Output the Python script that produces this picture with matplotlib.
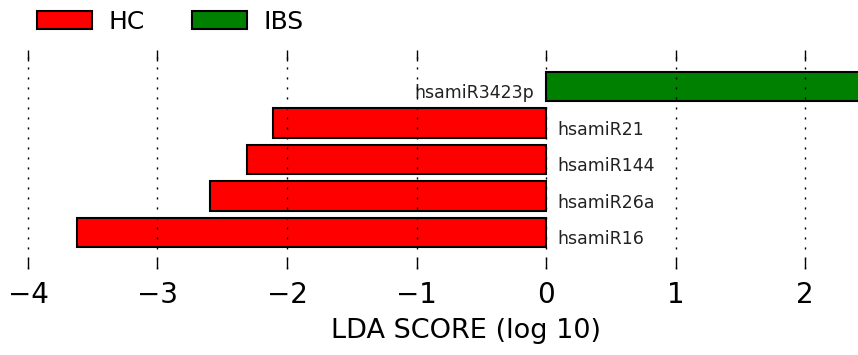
import matplotlib
matplotlib.use("Agg")
import matplotlib.pyplot as plt
from matplotlib.patches import Patch

# Data (top to bottom in the chart)
features = ["hsamiR3423p", "hsamiR21", "hsamiR144", "hsamiR26a", "hsamiR16"]
lda_scores = [2.7, -2.11, -2.31, -2.595, -3.62]
groups = ["IBS", "HC", "HC", "HC", "HC"]
group_names = ["HC", "IBS"]
group_colors = {"HC": "#FF0000", "IBS": "#008000"}
xticks = [-4, -3, -2, -1, 0, 1, 2]

plt.rcParams["font.family"] = ["DejaVu Sans"]

fig = plt.figure(figsize=(8.58, 3.55), dpi=100)
ax = fig.add_axes([0.0, 0.2423, 1.0, 0.8592 - 0.2423])

n = len(features)
ypos = [n - 1 - i for i in range(n)]
for y, v, g, name in zip(ypos, lda_scores, groups, features):
    ax.barh(y, v, height=0.8, color=group_colors[g], edgecolor="black",
            linewidth=1.5, zorder=1)
    if v < 0:
        ax.text(0.09, y - 0.32, name, ha="left", va="baseline", fontsize=12.5,
                color="#222222", zorder=0)
    else:
        ax.text(-0.09, y - 0.32, name, ha="right", va="baseline", fontsize=12.5,
                color="#222222", zorder=0)

ax.set_xlim(-4.216, 2.409)
ax.set_ylim(-1, 5)
ax.set_xticks(xticks)
ax.set_xticklabels([("\u2212%d" % -t) if t < 0 else str(t) for t in xticks])
ax.set_yticks([])
for s in ax.spines.values():
    s.set_visible(False)
ax.tick_params(axis="x", direction="in", length=8, width=1, top=True,
               bottom=True, labelsize=20, pad=9, colors="black")
ax.set_axisbelow(False)
ax.xaxis.grid(True, color="black", linewidth=1.0, linestyle=(0, (1.5, 5.7)))
ax.set_xlabel("LDA SCORE (log 10)", fontsize=19.5, x=0.543, labelpad=6)

handles = [Patch(facecolor=group_colors[g], edgecolor="black", linewidth=1.5)
           for g in group_names]
fig.legend(handles, group_names, loc="center left",
           bbox_to_anchor=(0.0431, 0.939), ncol=2, frameon=False, fontsize=18,
           borderpad=0, borderaxespad=0, handlelength=2.2, handleheight=0.76,
           handletextpad=0.65, columnspacing=1.9)

fig.savefig("out.png", dpi=100)
